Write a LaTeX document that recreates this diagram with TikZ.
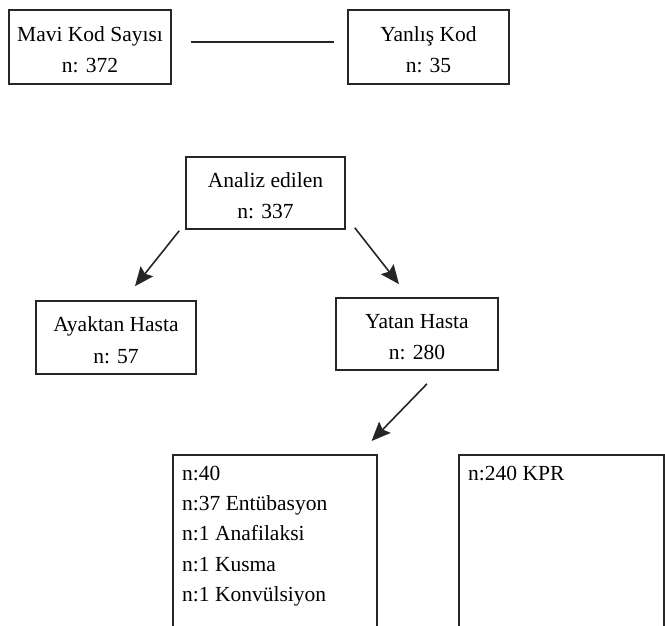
\documentclass[tikz,border=0pt]{standalone}
\usepackage{fontspec}
\setmainfont{Liberation Serif}
\usetikzlibrary{arrows.meta}
\newcommand{\topstrut}{\rule{0pt}{20pt}}
\begin{document}
\begin{tikzpicture}[x=1pt,y=-1pt,
  box/.style={draw=black!85, line width=1.6pt, inner sep=0pt, align=center,
    font=\fontsize{21.5}{31.5}\selectfont},
  txt/.style={inner sep=0pt, align=left, anchor=north west,
    font=\fontsize{21.5}{30.2}\selectfont},
  conn/.style={line width=1.6pt, draw=black!85},
  arr/.style={conn, -{Stealth[length=19pt,width=16pt,inset=3pt]}}]
\useasboundingbox (0,0) rectangle (665,626);
\clip (0,0) rectangle (665,626);
% top row
\node[box, minimum width=162pt, minimum height=74pt] (mavi) at (90,47) {\topstrut Mavi Kod Sayısı\\n: 372};
\node[box, minimum width=161pt, minimum height=74pt] (yanlis) at (428.5,47) {\topstrut Yanlış Kod\\n: 35};
\draw[conn] ([xshift=19pt,yshift=5pt]mavi.east) -- ([xshift=-13pt,yshift=5pt]yanlis.west);
% middle
\node[box, minimum width=159pt, minimum height=72pt] (analiz) at (265.5,193) {\topstrut Analiz edilen\\n: 337};
\node[box, minimum width=160pt, minimum height=73pt] (ayaktan) at (116,337.5) {\topstrut Ayaktan Hasta\\n: 57};
\node[box, minimum width=162pt, minimum height=72pt] (yatan) at (417,334) {\topstrut Yatan Hasta\\n: 280};
\draw[arr] ([xshift=-6pt,yshift=-1pt]analiz.south west) -- ([xshift=19pt,yshift=14pt]ayaktan.north);
\draw[arr] ([xshift=9pt,yshift=2pt]analiz.south east) -- ([xshift=-18pt,yshift=13pt]yatan.north);
% bottom
\node[box, minimum width=204pt, minimum height=220pt, anchor=north west] (lbox) at (172,454) {};
\node[box, minimum width=205pt, minimum height=220pt, anchor=north west] (rbox) at (458,454) {};
\node[txt] (ltext) at ([xshift=10pt,yshift=-12pt]lbox.north west)
  {n:40\\n:37 Entübasyon\\n:1 Anafilaksi\\n:1 Kusma\\n:1 Konvülsiyon};
\node[txt] (rtext) at ([xshift=10pt,yshift=-12pt]rbox.north west) {n:240 KPR};
\draw[arr] ([xshift=10pt,yshift=-13pt]yatan.south) -- ([xshift=-6pt,yshift=13pt]lbox.north east);
\end{tikzpicture}
\end{document}
